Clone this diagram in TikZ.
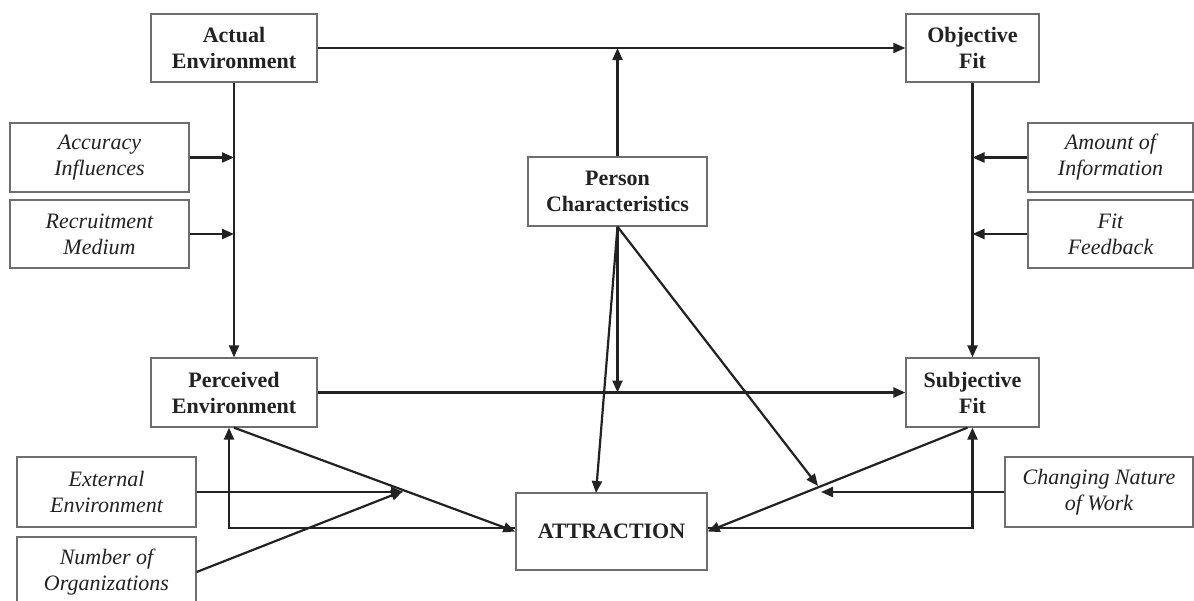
\documentclass[tikz,border=0pt]{standalone}
\usepackage{fontspec}
\setmainfont{Liberation Serif}
\usetikzlibrary{arrows.meta,calc}
\definecolor{ink}{HTML}{222222}
\definecolor{frame}{HTML}{6E6E6E}
\begin{document}
\begin{tikzpicture}[x=1pt,y=-1pt,
  box/.style={draw=frame,line width=1.3pt,fill=white,inner sep=0pt,align=center,
    text=ink,font=\fontsize{22}{26}\selectfont},
  mainbox/.style={box,font=\fontsize{22}{26}\selectfont\bfseries},
  modbox/.style={box,font=\fontsize{22}{26}\selectfont\itshape},
  arr/.style={draw=ink,line width=2.2pt,-{Triangle[length=12pt,width=10pt]}}]
\path[use as bounding box,clip] (0,0) rectangle (1194,600);
\fill[white] (0,0) rectangle (1194,600);

% main constructs
\node[mainbox,minimum width=166,minimum height=68] (ae) at (234,48) {Actual\\Environment};
\node[mainbox,minimum width=133,minimum height=68] (of) at (972.5,48) {Objective\\Fit};
\node[mainbox,minimum width=179,minimum height=69] (pc) at (617.5,191.5) {Person\\Characteristics};
\node[mainbox,minimum width=166,minimum height=69] (pe) at (234,392.5) {Perceived\\Environment};
\node[mainbox,minimum width=133,minimum height=69] (sf) at (972.5,392.5) {Subjective\\Fit};
\node[mainbox,minimum width=191,minimum height=77] (at) at (611.5,531.5) {ATTRACTION};

% moderators
\node[modbox,minimum width=179,minimum height=69] (ai) at (99.5,157.5) {Accuracy\\Influences};
\node[modbox,minimum width=179,minimum height=68] (rm) at (99.5,234) {Recruitment\\Medium};
\node[modbox,minimum width=165,minimum height=69] (aoi) at (1110.5,157.5) {Amount of\\Information};
\node[modbox,minimum width=165,minimum height=68] (ff) at (1110.5,234) {Fit\\Feedback};
\node[modbox,minimum width=179,minimum height=70] (ee) at (106.5,492) {External\\Environment};
\node[modbox,minimum width=179,minimum height=70] (no) at (106.5,572) {Number of\\Organizations};
\node[modbox,minimum width=188,minimum height=70] (cn) at (1099,492) {Changing Nature\\of Work};

% points where moderating arrows meet a path
\coordinate (atin) at (596,493);
\coordinate (ml) at (403,491);
\coordinate (mr) at (818,486);
\coordinate (mrh) at (821,492);

% actual environment to objective fit, moderated by person characteristics
\draw[arr] (ae.east) -- (of.west);
\draw[arr] (pc.north) -- (pc.north |- ae.east);

% actual to perceived environment
\draw[arr] (ae.south) -- (pe.north);
\draw[arr] (ai.east) -- (ai.east -| ae.south);
\draw[arr] (rm.east) -- (rm.east -| ae.south);

% objective to subjective fit
\draw[arr] (of.south) -- (sf.north);
\draw[arr] (aoi.west) -- (aoi.west -| of.south);
\draw[arr] (ff.west) -- (ff.west -| of.south);

% perceived environment to subjective fit
\draw[arr] (pe.east) -- (sf.west);
\draw[arr] (pc.south) -- (pc.south |- pe.east);

% person characteristics
\draw[arr] (pc.south) -- (atin);
\draw[arr] (pc.south) -- (mr);

% paths into attraction
\draw[arr] (pe.south) -- (at.west);
\draw[arr] ([xshift=-5pt]sf.south) -- (at.east);
\draw[arr] (ee.east) -- (ee.east -| ml);
\draw[arr] (no.east) -- (ml);
\draw[arr] (cn.west) -- (mrh);

% feedback from attraction
\draw[arr] ([yshift=3.5pt]at.west) -| ([xshift=-5pt]pe.south);
\draw[arr] ([yshift=3.5pt]at.east) -| (sf.south);
\end{tikzpicture}
\end{document}
